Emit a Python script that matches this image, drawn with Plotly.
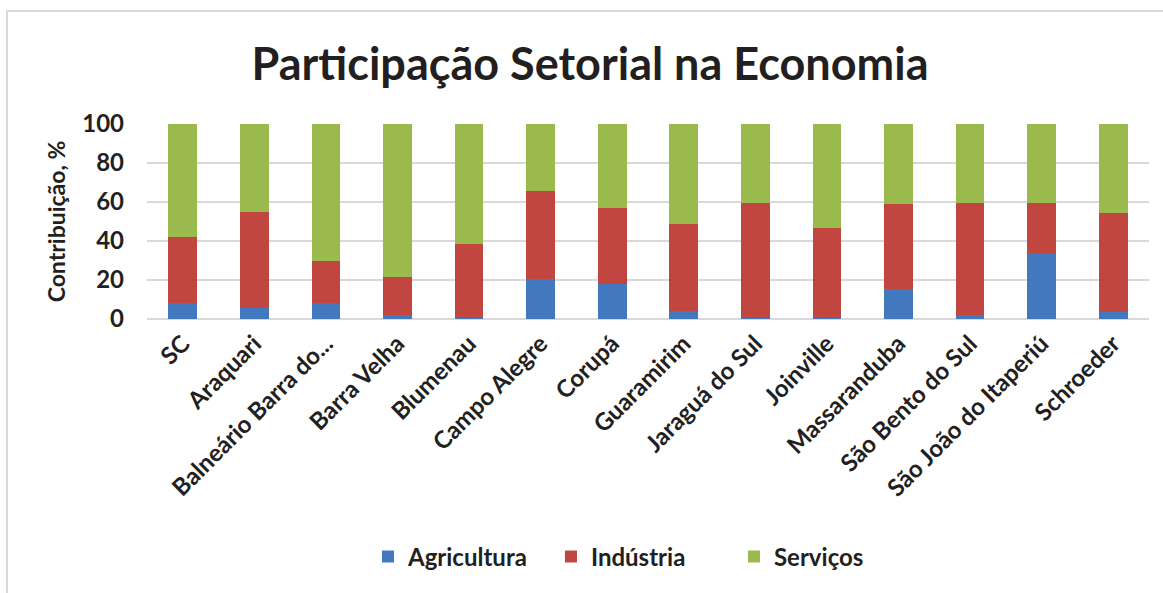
import plotly.graph_objects as go

categories = ["SC", "Araquari", "Balneário Barra do...", "Barra Velha", "Blumenau",
              "Campo Alegre", "Corupá", "Guaramirim", "Jaraguá do Sul", "Joinville",
              "Massaranduba", "São Bento do Sul", "São João do Itaperiú", "Schroeder"]
agricultura = [8.0, 5.6, 8.0, 2.2, 0.3, 20.6, 18.1, 3.9, 0.3, 0.3, 15.5, 1.9, 34.0, 3.6]
industria_top = [42.2, 55.0, 29.9, 21.7, 38.6, 65.5, 57.0, 48.8, 59.4, 46.8, 59.0, 59.4, 59.4, 54.3]
industria = [round(t - a, 1) for t, a in zip(industria_top, agricultura)]
servicos = [round(100 - t, 1) for t in industria_top]

FONT = "Lato"
TXT = "#231f20"
L, R, T, B = 147, 14, 124, 274
W, H = 1163, 593
pw, ph = W - L - R, H - T - B

fig = go.Figure()
fig.add_trace(go.Bar(name="Agricultura", x=categories, y=agricultura, marker_color="#4178be"))
fig.add_trace(go.Bar(name="Indústria", x=categories, y=industria, marker_color="#c0463f"))
fig.add_trace(go.Bar(name="Serviços", x=categories, y=servicos, marker_color="#9bba4d"))
fig.update_traces(marker_line_width=0)

def px2x(px):
    return (px - L) / pw

def py2y(py):
    return (H - B - py) / ph

fig.update_layout(
    width=W, height=H,
    barmode="stack", bargap=0.6,
    plot_bgcolor="white", paper_bgcolor="white",
    margin=dict(l=L, r=R, t=T, b=B, autoexpand=False),
    font=dict(family=FONT, color=TXT),
    title=dict(text="Participação Setorial na Economia", x=590 / W, xref="container",
               xanchor="center", y=1 - 64 / H, yanchor="middle", automargin=False,
               font=dict(family=FONT, size=45, color=TXT, weight="bold")),
    xaxis=dict(tickangle=-45, tickfont=dict(size=24, family=FONT, color=TXT, weight="bold"),
               showgrid=False, showline=False, ticks="", ticklabelstandoff=5, automargin=False),
    yaxis=dict(range=[0, 100], tickvals=[0, 20, 40, 60, 80, 100],
               tickfont=dict(size=24, family=FONT, color=TXT, weight="bold"),
               gridcolor="#d9d9d9", gridwidth=1.5, zeroline=True, zerolinecolor="#d9d9d9",
               zerolinewidth=1.5, ticks="", ticklabelstandoff=22, automargin=False,
               title=dict(text="Contribuição, %", standoff=10,
                          font=dict(size=23, family=FONT, color=TXT, weight="bold"))),
    legend=dict(orientation="h", x=px2x(380) - 0.012, xanchor="left", y=py2y(557), yanchor="middle",
                font=dict(size=24, family=FONT, color=TXT, weight="bold"),
                entrywidth=138, entrywidthmode="pixels", traceorder="normal"),
    shapes=[dict(type="rect", xref="paper", yref="paper",
                 x0=px2x(7), x1=px2x(1175), y0=py2y(605), y1=py2y(11),
                 line=dict(color="#d9d9d9", width=2), fillcolor="rgba(0,0,0,0)", layer="below")],
)

fig.write_html("out.html", config={"displayModeBar": False},
               post_script="document.body.style.margin='0';document.body.style.padding='0';"
                           "document.body.style.overflow='hidden';")
